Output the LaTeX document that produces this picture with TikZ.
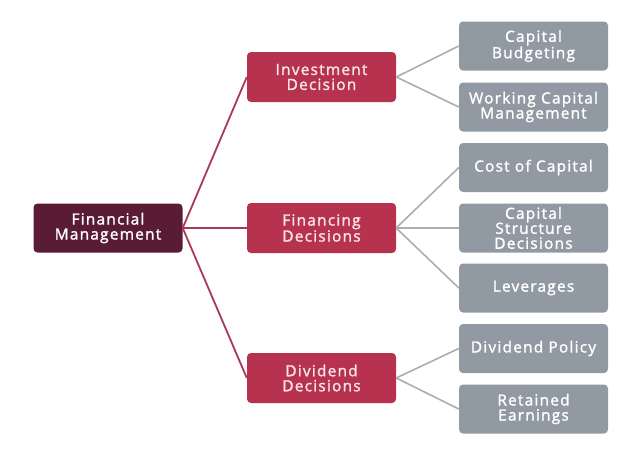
\documentclass[tikz,border=0pt]{standalone}
\usepackage{fontspec}
\setmainfont[LetterSpace=8,FakeBold=1.6]{Open Sans}
\begin{document}
\begin{tikzpicture}[x=1pt,y=-1pt,
  base/.style={rounded corners=4pt, minimum width=149pt, minimum height=49pt, inner sep=1pt, align=center, font=\fontsize{15.4}{15}\selectfont, text=white},
  rootbox/.style={base, fill=rootc},
  midbox/.style={base, fill=midc, minimum height=50pt, text=midtext},
  leafbox/.style={base, fill=leafc},
  lconn/.style={draw=lconnc, line width=1.8pt},
  rconn/.style={draw=rconnc, line width=1.6pt}]
\definecolor{rootc}{HTML}{5A1C35}
\definecolor{midc}{HTML}{B7324E}
\definecolor{midtext}{HTML}{F6E6EA}
\definecolor{leafc}{HTML}{9199A2}
\definecolor{lconnc}{HTML}{A83A55}
\definecolor{rconnc}{HTML}{A9AEB3}
\useasboundingbox (0,0) rectangle (638,464);
\node[rootbox] (root) at (108,228) {Financial\\Management};
\node[midbox] (inv) at (321.5,77) {Investment\\Decision};
\node[midbox] (fin) at (321.5,228) {Financing\\Decisions};
\node[midbox] (div) at (321.5,378) {Dividend\\Decisions};
\node[leafbox] (cb) at (533.5,46) {Capital\\Budgeting};
\node[leafbox] (wc) at (533.5,107) {Working Capital\\Management};
\node[leafbox] (cc) at (533.5,167.5) {Cost of Capital};
\node[leafbox] (cs) at (533.5,228) {Capital\\Structure\\Decisions};
\node[leafbox] (lev) at (533.5,288) {Leverages};
\node[leafbox] (dp) at (533.5,348.5) {Dividend Policy};
\node[leafbox] (re) at (533.5,409) {Retained\\Earnings};
\draw[lconn] (root.east) -- (inv.west);
\draw[lconn] (root.east) -- (fin.west);
\draw[lconn] (root.east) -- (div.west);
\draw[rconn] (inv.east) -- (cb.west);
\draw[rconn] (inv.east) -- (wc.west);
\draw[rconn] (fin.east) -- (cc.west);
\draw[rconn] (fin.east) -- (cs.west);
\draw[rconn] (fin.east) -- (lev.west);
\draw[rconn] (div.east) -- (dp.west);
\draw[rconn] (div.east) -- (re.west);
\end{tikzpicture}
\end{document}
